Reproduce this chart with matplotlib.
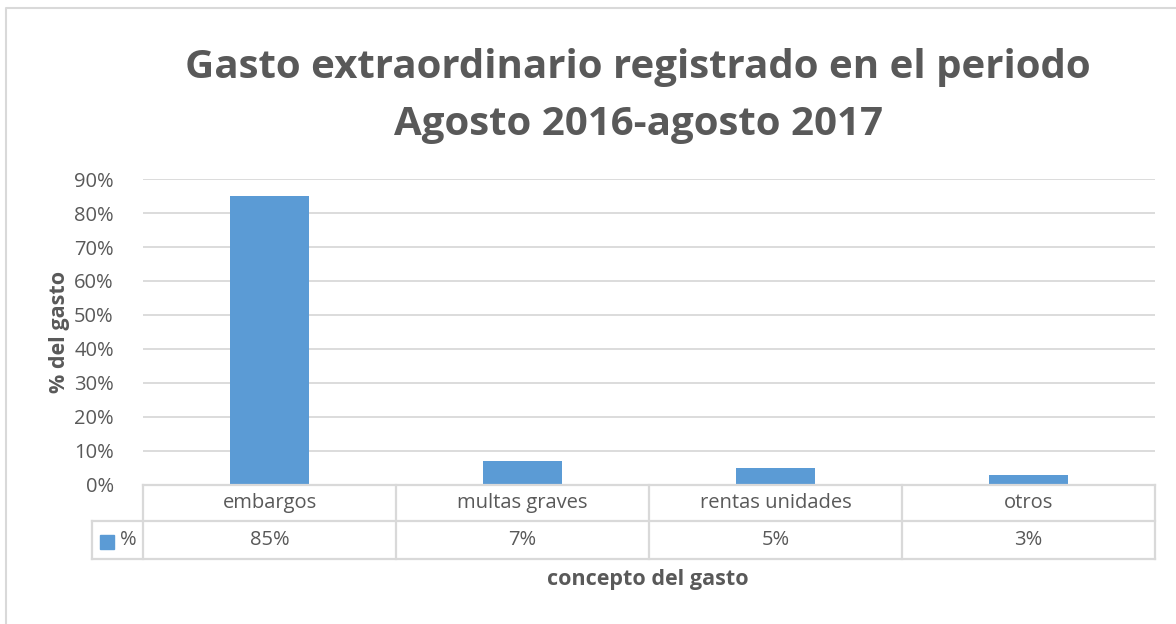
import matplotlib
matplotlib.use("Agg")
import matplotlib.pyplot as plt
from matplotlib.lines import Line2D
from matplotlib.patches import Rectangle
import matplotlib.transforms as mtransforms

categories = ["embargos", "multas graves", "rentas unidades", "otros"]
values = [0.85, 0.07, 0.05, 0.03]
value_labels = ["85%", "7%", "5%", "3%"]
series_name = "%"
yticks = [0.0, 0.1, 0.2, 0.3, 0.4, 0.5, 0.6, 0.7, 0.8, 0.9]
ytick_labels = ["0%", "10%", "20%", "30%", "40%", "50%", "60%", "70%", "80%", "90%"]
title = "Gasto extraordinario registrado en el periodo\nAgosto 2016-agosto 2017"
xlabel = "concepto del gasto"
ylabel = "% del gasto"

FONT = ["Open Sans", "DejaVu Sans"]
plt.rcParams['font.family'] = FONT
TXT = "#595959"
GRID = "#d9d9d9"
BAR = "#5b9bd5"
SMALL = 14.5

W, H = 1176, 624
fig = plt.figure(figsize=(W / 100, H / 100), dpi=100)

def fx(px):
    return px / W

def fy(py):
    return 1 - py / H

ax_left, ax_right, ax_top, ax_bot = 143, 1155, 179, 485
ax = fig.add_axes([fx(ax_left), fy(ax_bot), fx(ax_right - ax_left), (ax_bot - ax_top) / H])

n = len(categories)
x = list(range(n))
ax.bar(x, values, width=0.31, color=BAR, zorder=3)
ax.set_xlim(-0.5, n - 0.5)
ax.set_ylim(0, 0.9)
ax.set_yticks(yticks)
ax.set_yticklabels(ytick_labels, fontsize=SMALL, color=TXT)
ax.set_xticks([])
ax.tick_params(axis='y', length=0, pad=21)
ax.yaxis.grid(True, color=GRID, linewidth=1.3, zorder=0)
for s in ax.spines.values():
    s.set_visible(False)

# data table
trans = mtransforms.blended_transform_factory(ax.transData, ax.transAxes)
ah = ax_bot - ax_top
r1 = -(521 - 485) / ah
r2 = -(559 - 485) / ah
tbl_kw = dict(color=GRID, linewidth=1.6, clip_on=False, zorder=4)
ax.add_line(Line2D([-0.5, n - 0.5], [0, 0], transform=trans, **tbl_kw))
left_data = -0.5 - (ax_left - 92) / ((ax_right - ax_left) / n)
ax.add_line(Line2D([left_data, n - 0.5], [r1, r1], transform=trans, **tbl_kw))
ax.add_line(Line2D([left_data, n - 0.5], [r2, r2], transform=trans, **tbl_kw))
for i in range(n + 1):
    ax.add_line(Line2D([i - 0.5, i - 0.5], [0, r2], transform=trans, **tbl_kw))
ax.add_line(Line2D([left_data, left_data], [r1, r2], transform=trans, **tbl_kw))

for i, (c, v) in enumerate(zip(categories, value_labels)):
    ax.text(i, r1 / 2, c, transform=trans, ha='center', va='center', fontsize=SMALL, color=TXT)
    ax.text(i, (r1 + r2) / 2, v, transform=trans, ha='center', va='center', fontsize=SMALL, color=TXT)

# legend key in table
fig.patches.append(Rectangle((fx(100), fy(549)), fx(14), 14 / H, transform=fig.transFigure,
                             color=BAR, zorder=5))
fig.text(fx(120), fy(540), series_name, ha='left', va='center', fontsize=SMALL, color=TXT)

# title and labels
fig.text(fx(638), fy(96), title, ha='center', va='center', fontsize=29, fontweight='bold',
         color=TXT, linespacing=1.6)
fig.text(fx(648), fy(580), xlabel, ha='center', va='center', fontsize=15.5, fontweight='bold', color=TXT)
fig.text(fx(60), fy(332), ylabel, ha='center', va='center', fontsize=15.5, fontweight='bold',
         color=TXT, rotation=90)

# chart border (left and top visible)
fig.lines.append(Line2D([fx(6), fx(6), fx(1176)], [fy(624), fy(8), fy(8)],
                        transform=fig.transFigure, color=GRID, linewidth=1.5))

fig.savefig("out.png", dpi=100, facecolor="white")
